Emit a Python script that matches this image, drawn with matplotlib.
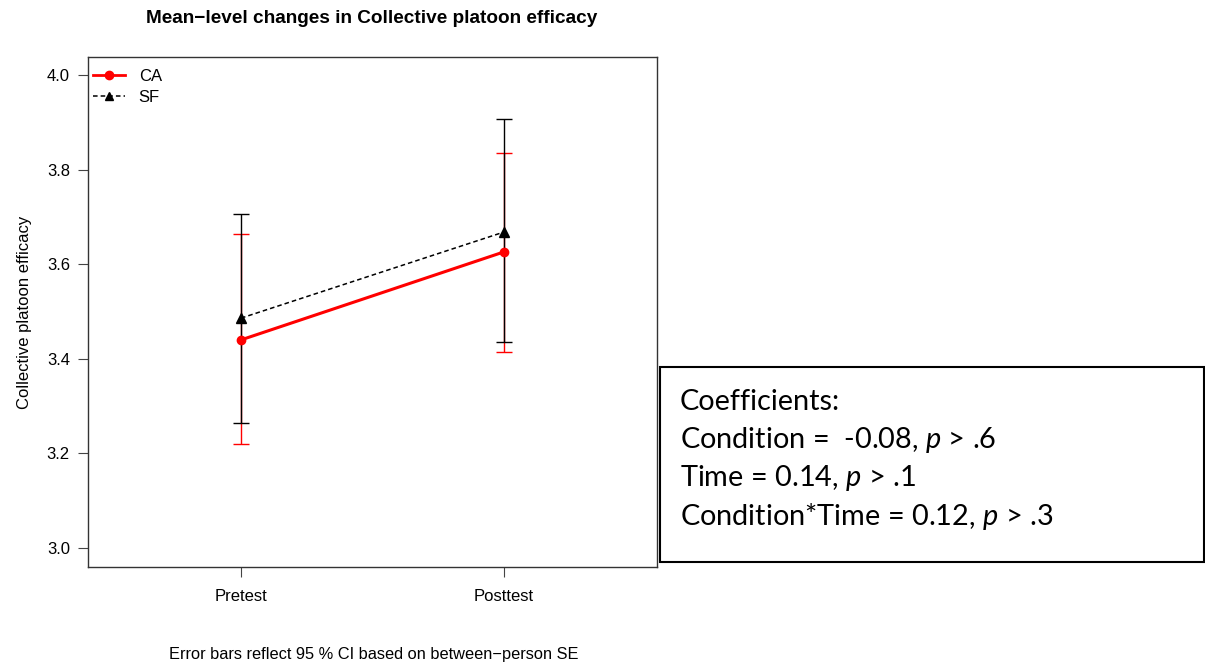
import matplotlib
matplotlib.use("Agg")
import matplotlib.pyplot as plt
from matplotlib.patches import Rectangle

# Data
time_labels = ["Pretest", "Posttest"]
ca_mean = [3.440, 3.626]
ca_lower = [3.220, 3.414]
ca_upper = [3.663, 3.835]
sf_mean = [3.486, 3.668]
sf_lower = [3.264, 3.435]
sf_upper = [3.707, 3.907]
y_ticks = [3.0, 3.2, 3.4, 3.6, 3.8, 4.0]

coef_lines = [
    r"Coefficients:",
    r"Condition =  -0.08, $p$ > .6",
    r"Time = 0.14, $p$ > .1",
    r"Condition*Time = 0.12, $p$ > .3",
]

plt.rcParams["font.family"] = ["Liberation Sans", "DejaVu Sans"]
plt.rcParams["mathtext.fontset"] = "custom"
plt.rcParams["mathtext.rm"] = "Lato"
plt.rcParams["mathtext.it"] = "Lato:italic"

fig = plt.figure(figsize=(12.05, 6.68), dpi=100)
ax = fig.add_axes([0.0730, 0.1512, 0.4722, 0.7635])

x = [1, 2]
ca_err = [[m - l for m, l in zip(ca_mean, ca_lower)], [u - m for m, u in zip(ca_mean, ca_upper)]]
sf_err = [[m - l for m, l in zip(sf_mean, sf_lower)], [u - m for m, u in zip(sf_mean, sf_upper)]]

ax.errorbar(x, ca_mean, yerr=ca_err, fmt="none", ecolor="#ff0000", elinewidth=1,
            capsize=6, capthick=1, zorder=2)
ax.errorbar(x, sf_mean, yerr=sf_err, fmt="none", ecolor="black", elinewidth=1,
            capsize=6, capthick=1, zorder=3)
ax.plot(x, ca_mean, color="#ff0000", lw=2.2, zorder=4)
ax.plot(x, ca_mean, "o", color="#ff0000", ms=6, zorder=5)
ax.plot(x, sf_mean, color="black", lw=1.1, ls=(0, (3, 2)), zorder=4)
ax.plot(x, sf_mean, "^", color="black", ms=7, zorder=5)

# Legend entries
h1, = ax.plot([], [], color="#ff0000", lw=2.0, marker="o", ms=6)
h2, = ax.plot([], [], color="black", lw=1.1, ls=(0, (3, 2)), marker="^", ms=6)
ax.legend([h1, h2], ["CA", "SF"], loc="upper left", frameon=False, fontsize=12,
          handlelength=1.9, handletextpad=0.85, labelspacing=0.38,
          borderaxespad=0.0, bbox_to_anchor=(-0.003, 0.99))

ax.set_xlim(0.418, 2.582)
ax.set_ylim(2.96, 4.038)
ax.set_xticks(x)
ax.set_xticklabels(time_labels, fontsize=12)
ax.set_yticks(y_ticks)
ax.set_yticklabels([f"{v:.1f}" for v in y_ticks], fontsize=12)
ax.tick_params(length=7, width=0.8, color="#444444", pad=6)
ax.tick_params(axis="x", pad=9)
for s in ax.spines.values():
    s.set_linewidth(1.0)
    s.set_color("#333333")
ax.set_ylabel("Collective platoon efficacy", fontsize=12, labelpad=11)

fig.text(0.3087, 0.973, "Mean\u2212level changes in Collective platoon efficacy",
         ha="center", va="center", fontsize=13.7, fontweight="bold")
fig.text(0.3104, 0.0195, "Error bars reflect 95 % CI based on between\u2212person SE",
         ha="center", va="center", fontsize=11.8)

# Coefficients box
fig.patches.append(Rectangle((0.5477, 0.1587), 0.4515, 0.2919, transform=fig.transFigure,
                             facecolor="white", edgecolor="black", lw=1.5))
line_y = [402, 440, 478, 517]
for txt, yp in zip(coef_lines, line_y):
    fig.text(680 / 1205, 1 - yp / 668, txt, ha="left", va="center",
             fontsize=20.8, family="Lato")

fig.savefig("out.png", dpi=100)
